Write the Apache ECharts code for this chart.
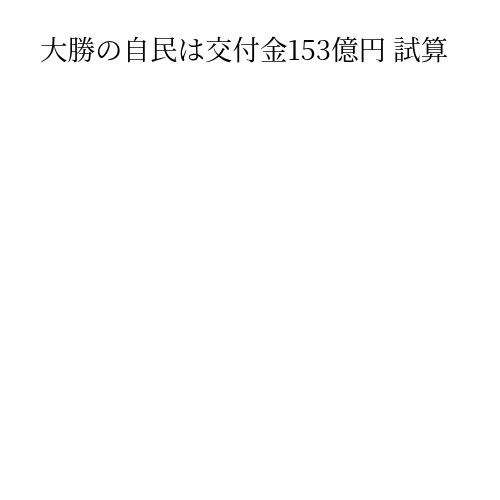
<!DOCTYPE html>
<html>
<head>
<meta charset="utf-8">
<script src="https://cdn.jsdelivr.net/npm/echarts@6/dist/echarts.min.js"></script>
<style>
  html, body { margin: 0; padding: 0; background: #fff; }
  #main { width: 500px; height: 500px; }
</style>
</head>
<body>
<div id="main"></div>
<script>
  // 参照図には系列が描かれていない（タイトルのみ）
  const titleText = '大勝の自民は交付金153億円 試算';
  const categories = [];
  const values = [];

  const chart = echarts.init(document.getElementById('main'), null, { renderer: 'canvas' });

  const option = {
    backgroundColor: '#ffffff',
    animation: false,
    title: {
      text: titleText,
      left: 35,
      top: 31,
      textStyle: {
        fontFamily: '"Noto Serif CJK JP", "Noto Sans CJK JP", serif',
        fontSize: 27.5,
        fontWeight: 'normal',
        color: '#000'
      }
    },
    xAxis: { type: 'category', data: categories, show: false },
    yAxis: { type: 'value', show: false },
    series: [{ type: 'bar', data: values }]
  };

  chart.setOption(option);
</script>
</body>
</html>
